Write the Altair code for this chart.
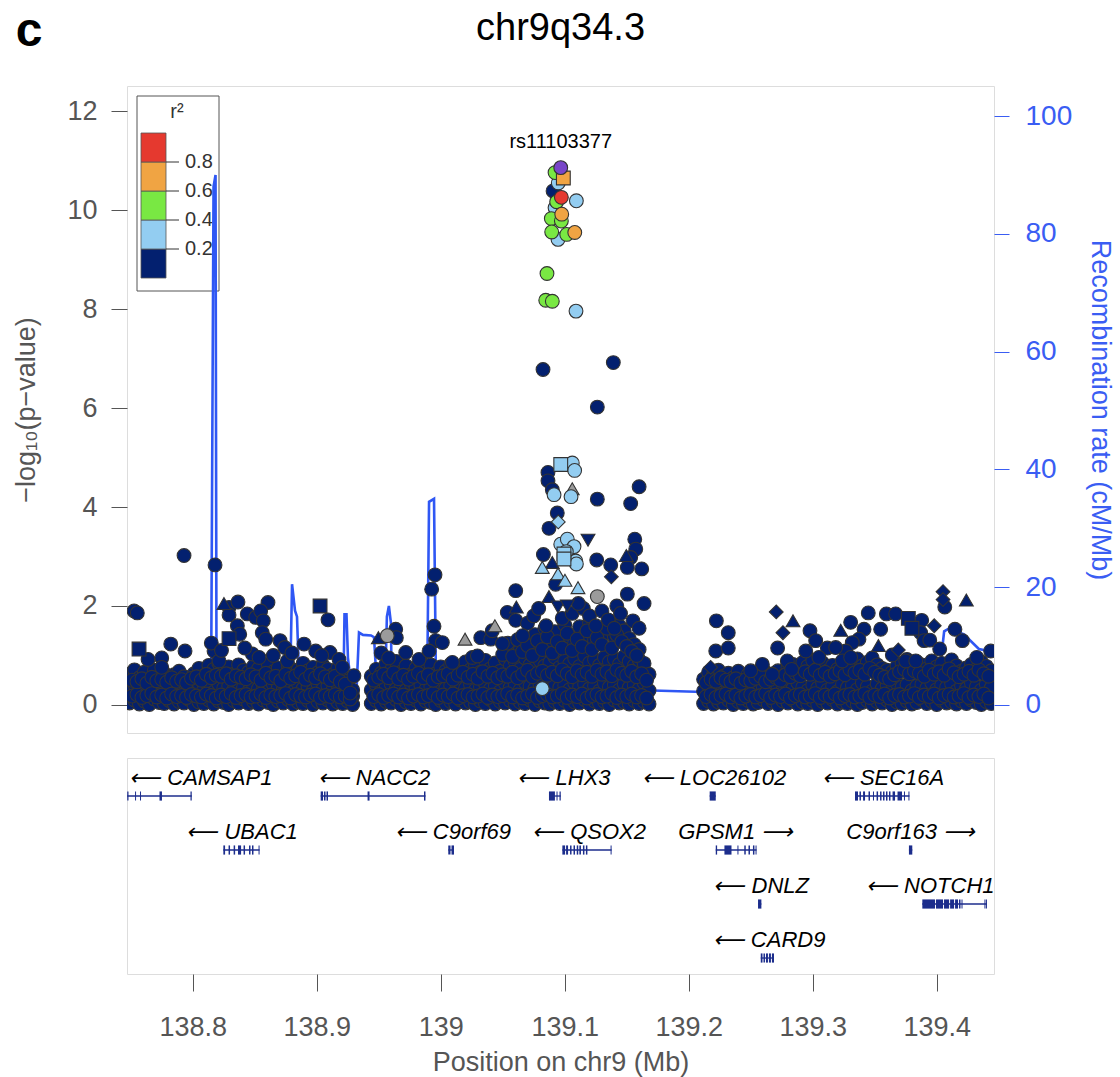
import altair as alt
import pandas as pd

FONT = "Liberation Sans"
NAVY = "#03206F"
LBLUE = "#93CDF1"
GREEN = "#79E843"
ORANGE = "#F0A443"
RED = "#E5392F"
PURPLE = "#7845C8"
GRAY = "#9B9B9B"
LINE_BLUE = "#2F57F4"
AXIS_BLUE = "#3A5DF3"
GENE = "#1C2D8C"
AXIS_GRAY = "#555555"

X_DOMAIN = [138.747, 139.4462]
Y_DOMAIN = [-0.567, 12.51]
R_DOMAIN = [-4.76, 105.1]

# ---------------- association results (position Mb, -log10 p) ----------------
base_left = [
    (138.749, 0.04, 0.31, 0.62), (138.753, 0.10, 0.42, 0.71), (138.757, 0.02, 0.27, 0.55),
    (138.761, 0.08, 0.36, 0.66), (138.765, 0.01, 0.22, 0.48), (138.769, 0.12, 0.40, 0.70),
    (138.773, 0.05, 0.33, 0.58), (138.777, 0.03, 0.29, 0.64), (138.781, 0.09, 0.38, 0.52),
    (138.785, 0.02, 0.25, 0.61), (138.789, 0.07, 0.41, 0.68), (138.793, 0.04, 0.30, 0.57),
    (138.797, 0.11, 0.35, 0.50), (138.801, 0.01, 0.28, 0.63), (138.805, 0.06, 0.44, 0.74),
    (138.809, 0.03, 0.32, 0.59), (138.813, 0.10, 0.37, 0.80), (138.817, 0.02, 0.26, 0.72),
    (138.821, 0.08, 0.43, 0.85), (138.825, 0.05, 0.34, 0.69), (138.829, 0.01, 0.39, 0.77),
    (138.833, 0.09, 0.30, 0.62), (138.837, 0.04, 0.45, 0.81), (138.841, 0.12, 0.36, 0.70),
    (138.845, 0.03, 0.27, 0.66), (138.849, 0.07, 0.41, 0.78), (138.853, 0.02, 0.33, 0.73),
    (138.857, 0.10, 0.38, 0.60), (138.861, 0.05, 0.29, 0.82), (138.865, 0.01, 0.42, 0.67),
    (138.869, 0.08, 0.35, 0.75), (138.873, 0.04, 0.31, 0.58), (138.877, 0.11, 0.40, 0.79),
    (138.881, 0.02, 0.26, 0.63), (138.885, 0.06, 0.44, 0.71), (138.889, 0.03, 0.33, 0.84),
    (138.893, 0.09, 0.37, 0.69), (138.897, 0.01, 0.28, 0.76), (138.901, 0.07, 0.43, 0.65),
    (138.905, 0.04, 0.32, 0.80), (138.909, 0.10, 0.39, 0.72), (138.913, 0.02, 0.30, 0.61),
    (138.917, 0.06, 0.41, 0.74), (138.921, 0.03, 0.27, 0.56), (138.925, 0.08, 0.35, 0.48),
    (138.929, 0.01, 0.18, 0.30),
]
base_fill_left = [
    (138.751, 0.18, 0.50), (138.755, 0.21, 0.47), (138.759, 0.15, 0.53), (138.763, 0.19, 0.44),
    (138.767, 0.23, 0.56), (138.771, 0.16, 0.49), (138.775, 0.20, 0.52), (138.779, 0.14, 0.46),
    (138.783, 0.22, 0.55), (138.787, 0.17, 0.48), (138.791, 0.19, 0.51), (138.795, 0.15, 0.45),
    (138.799, 0.21, 0.54), (138.803, 0.18, 0.57), (138.807, 0.16, 0.50), (138.811, 0.22, 0.62),
    (138.815, 0.19, 0.55), (138.819, 0.14, 0.60), (138.823, 0.20, 0.58), (138.827, 0.17, 0.63),
    (138.831, 0.23, 0.52), (138.835, 0.15, 0.59), (138.839, 0.19, 0.56), (138.843, 0.21, 0.53),
    (138.847, 0.16, 0.61), (138.851, 0.18, 0.57), (138.855, 0.22, 0.50), (138.859, 0.15, 0.64),
    (138.863, 0.20, 0.55), (138.867, 0.17, 0.58), (138.871, 0.19, 0.49), (138.875, 0.23, 0.62),
    (138.879, 0.14, 0.54), (138.883, 0.21, 0.59), (138.887, 0.18, 0.66), (138.891, 0.16, 0.52),
    (138.895, 0.20, 0.60), (138.899, 0.22, 0.55), (138.903, 0.15, 0.63), (138.907, 0.19, 0.57),
    (138.911, 0.17, 0.51), (138.915, 0.21, 0.58), (138.919, 0.16, 0.47), (138.923, 0.18, 0.42),
    (138.927, 0.12, 0.24),
]
base_mid = [
    (138.944, 0.03, 0.30, 0.58), (138.948, 0.09, 0.41, 0.72), (138.952, 0.02, 0.27, 0.64),
    (138.956, 0.07, 0.36, 0.83), (138.960, 0.04, 0.43, 0.70), (138.964, 0.11, 0.32, 0.88),
    (138.968, 0.01, 0.38, 0.66), (138.972, 0.06, 0.29, 0.79), (138.976, 0.03, 0.44, 0.61),
    (138.980, 0.10, 0.35, 0.74), (138.984, 0.02, 0.40, 0.86), (138.988, 0.08, 0.31, 0.69),
    (138.992, 0.05, 0.37, 0.81), (138.996, 0.01, 0.26, 0.63), (139.000, 0.09, 0.42, 0.77),
    (139.004, 0.03, 0.33, 0.68), (139.008, 0.07, 0.39, 0.82), (139.012, 0.02, 0.28, 0.60),
    (139.016, 0.10, 0.45, 0.75), (139.020, 0.04, 0.34, 0.87), (139.024, 0.06, 0.41, 0.71),
    (139.028, 0.01, 0.30, 0.80), (139.032, 0.08, 0.37, 0.66), (139.036, 0.03, 0.43, 0.90),
    (139.040, 0.11, 0.32, 0.73), (139.044, 0.02, 0.39, 0.85), (139.048, 0.07, 0.27, 0.68),
    (139.052, 0.04, 0.44, 0.93, 1.15), (139.056, 0.09, 0.35, 0.78, 1.05),
    (139.060, 0.02, 0.41, 0.88, 1.22), (139.064, 0.06, 0.30, 0.72, 1.10),
    (139.068, 0.03, 0.46, 0.95, 1.35), (139.072, 0.10, 0.38, 0.81, 1.18),
    (139.076, 0.01, 0.33, 0.74, 1.42), (139.080, 0.08, 0.43, 0.90, 1.27),
    (139.084, 0.04, 0.36, 0.79, 1.55), (139.088, 0.02, 0.29, 0.86, 1.30),
    (139.092, 0.07, 0.42, 0.97, 1.48), (139.096, 0.03, 0.35, 0.76, 1.20),
    (139.100, 0.09, 0.40, 0.89, 1.62), (139.104, 0.01, 0.31, 0.83, 1.37),
    (139.108, 0.06, 0.45, 0.94, 1.25), (139.112, 0.04, 0.37, 0.78, 1.58),
    (139.116, 0.11, 0.42, 0.99, 1.40), (139.120, 0.02, 0.33, 0.85, 1.66),
    (139.124, 0.08, 0.39, 0.92, 1.31), (139.128, 0.03, 0.28, 0.80, 1.52),
    (139.132, 0.07, 0.44, 0.96, 1.45), (139.136, 0.01, 0.36, 0.87, 1.70),
    (139.140, 0.10, 0.41, 0.93, 1.38), (139.144, 0.04, 0.30, 0.82, 1.60),
    (139.148, 0.06, 0.43, 0.98, 1.50), (139.152, 0.02, 0.35, 0.88, 1.34),
    (139.156, 0.09, 0.40, 0.79, 1.22), (139.160, 0.03, 0.32, 0.91, 1.12),
    (139.164, 0.07, 0.45, 0.84), (139.168, 0.02, 0.29, 0.62),
]
base_fill_mid = [
    (138.946, 0.17, 0.50), (138.950, 0.21, 0.56), (138.954, 0.15, 0.62), (138.958, 0.19, 0.55),
    (138.962, 0.22, 0.65), (138.966, 0.16, 0.53), (138.970, 0.20, 0.60), (138.974, 0.14, 0.52),
    (138.978, 0.18, 0.58), (138.982, 0.21, 0.64), (138.986, 0.16, 0.55), (138.990, 0.19, 0.61),
    (138.994, 0.23, 0.50), (138.998, 0.15, 0.57), (139.002, 0.20, 0.59), (139.006, 0.17, 0.63),
    (139.010, 0.22, 0.52), (139.014, 0.14, 0.60), (139.018, 0.19, 0.66), (139.022, 0.21, 0.56),
    (139.026, 0.16, 0.62), (139.030, 0.18, 0.54), (139.034, 0.22, 0.67), (139.038, 0.15, 0.58),
    (139.042, 0.20, 0.64), (139.046, 0.17, 0.55),
    (139.050, 0.19, 0.61, 1.02), (139.054, 0.23, 0.58, 1.25), (139.058, 0.16, 0.66, 0.98),
    (139.062, 0.20, 0.55, 1.32), (139.066, 0.14, 0.62, 1.08), (139.070, 0.18, 0.70, 1.20),
    (139.074, 0.22, 0.57, 1.00), (139.078, 0.15, 0.64, 1.30), (139.082, 0.19, 0.68, 1.12),
    (139.086, 0.21, 0.60, 1.38), (139.090, 0.16, 0.66, 1.05), (139.094, 0.18, 0.59, 1.28),
    (139.098, 0.23, 0.71, 1.15), (139.102, 0.15, 0.63, 1.45), (139.106, 0.20, 0.57, 1.10),
    (139.110, 0.17, 0.69, 1.33), (139.114, 0.22, 0.61, 1.18), (139.118, 0.14, 0.66, 1.50),
    (139.122, 0.19, 0.58, 1.12), (139.126, 0.21, 0.70, 1.36), (139.130, 0.16, 0.62, 1.22),
    (139.134, 0.18, 0.67, 1.55), (139.138, 0.23, 0.59, 1.15), (139.142, 0.15, 0.71, 1.42),
    (139.146, 0.20, 0.64, 1.28), (139.150, 0.17, 0.60, 1.18), (139.154, 0.22, 0.68, 1.08),
    (139.158, 0.16, 0.57, 1.00), (139.162, 0.19, 0.63), (139.166, 0.14, 0.50),
]
base_right = [
    (139.212, 0.03, 0.28, 0.52), (139.216, 0.08, 0.40, 0.66), (139.220, 0.02, 0.33, 0.61),
    (139.224, 0.06, 0.44, 0.70), (139.228, 0.04, 0.30, 0.58), (139.232, 0.10, 0.37, 0.64),
    (139.236, 0.01, 0.26, 0.55), (139.240, 0.07, 0.41, 0.68), (139.244, 0.03, 0.34, 0.50),
    (139.248, 0.09, 0.29, 0.62), (139.252, 0.02, 0.42, 0.57), (139.256, 0.05, 0.31, 0.66),
    (139.260, 0.11, 0.38, 0.72), (139.264, 0.03, 0.27, 0.54), (139.268, 0.07, 0.43, 0.63),
    (139.272, 0.01, 0.35, 0.69), (139.276, 0.08, 0.30, 0.58), (139.280, 0.04, 0.40, 0.75),
    (139.284, 0.10, 0.33, 0.82), (139.288, 0.02, 0.45, 0.71), (139.292, 0.06, 0.36, 0.86),
    (139.296, 0.03, 0.29, 0.78), (139.300, 0.09, 0.41, 0.90), (139.304, 0.01, 0.34, 0.74),
    (139.308, 0.07, 0.44, 0.85), (139.312, 0.04, 0.30, 0.69), (139.316, 0.11, 0.38, 0.80),
    (139.320, 0.02, 0.27, 0.72), (139.324, 0.06, 0.42, 0.88), (139.328, 0.03, 0.35, 0.77),
    (139.332, 0.08, 0.40, 0.83), (139.336, 0.01, 0.31, 0.93), (139.340, 0.05, 0.45, 0.79),
    (139.344, 0.09, 0.37, 0.86), (139.348, 0.02, 0.28, 0.95), (139.352, 0.07, 0.43, 0.81),
    (139.356, 0.04, 0.33, 0.74), (139.360, 0.10, 0.39, 0.70), (139.364, 0.01, 0.30, 0.66),
    (139.368, 0.06, 0.44, 0.78), (139.372, 0.03, 0.36, 0.84), (139.376, 0.08, 0.41, 0.92),
    (139.380, 0.02, 0.29, 0.76), (139.384, 0.05, 0.38, 0.87), (139.388, 0.11, 0.42, 0.81),
    (139.392, 0.03, 0.34, 0.73), (139.396, 0.07, 0.45, 0.89), (139.400, 0.01, 0.31, 0.77),
    (139.404, 0.09, 0.40, 0.84), (139.408, 0.04, 0.36, 0.70), (139.412, 0.06, 0.43, 0.91),
    (139.416, 0.02, 0.28, 0.79), (139.420, 0.08, 0.39, 0.68), (139.424, 0.03, 0.33, 0.75),
    (139.428, 0.10, 0.44, 0.82), (139.432, 0.05, 0.37, 0.72), (139.436, 0.01, 0.30, 0.87),
    (139.440, 0.07, 0.42, 0.78), (139.444, 0.03, 0.35, 0.69),
]
base_fill_right = [
    (139.214, 0.17, 0.45), (139.218, 0.21, 0.52), (139.222, 0.15, 0.48), (139.226, 0.19, 0.55),
    (139.230, 0.22, 0.50), (139.234, 0.16, 0.47), (139.238, 0.20, 0.53), (139.242, 0.14, 0.44),
    (139.246, 0.18, 0.51), (139.250, 0.21, 0.49), (139.254, 0.16, 0.54), (139.258, 0.19, 0.58),
    (139.262, 0.23, 0.47), (139.266, 0.15, 0.52), (139.270, 0.20, 0.56), (139.274, 0.17, 0.50),
    (139.278, 0.22, 0.61), (139.282, 0.14, 0.57), (139.286, 0.19, 0.64), (139.290, 0.21, 0.59),
    (139.294, 0.16, 0.67), (139.298, 0.18, 0.62), (139.302, 0.23, 0.70), (139.306, 0.15, 0.60),
    (139.310, 0.20, 0.66), (139.314, 0.17, 0.58), (139.318, 0.22, 0.63), (139.322, 0.14, 0.69),
    (139.326, 0.19, 0.61), (139.330, 0.21, 0.72), (139.334, 0.16, 0.65), (139.338, 0.18, 0.70),
    (139.342, 0.23, 0.62), (139.346, 0.15, 0.74), (139.350, 0.20, 0.66), (139.354, 0.17, 0.60),
    (139.358, 0.22, 0.56), (139.362, 0.14, 0.52), (139.366, 0.19, 0.61), (139.370, 0.21, 0.67),
    (139.374, 0.16, 0.72), (139.378, 0.18, 0.63), (139.382, 0.23, 0.69), (139.386, 0.15, 0.64),
    (139.390, 0.20, 0.58), (139.394, 0.17, 0.70), (139.398, 0.22, 0.62), (139.402, 0.14, 0.67),
    (139.406, 0.19, 0.60), (139.410, 0.21, 0.73), (139.414, 0.16, 0.65), (139.418, 0.18, 0.57),
    (139.422, 0.23, 0.62), (139.426, 0.15, 0.68), (139.430, 0.20, 0.60), (139.434, 0.17, 0.71),
    (139.438, 0.22, 0.63), (139.442, 0.14, 0.58),
]

navy_circle = [
    (138.7527, 1.90), (138.7553, 1.86), (138.7640, 0.92), (138.7750, 0.95), (138.7823, 1.23),
    (138.7938, 1.09), (138.7750, 0.76), (138.7930, 3.02), (138.8180, 2.83), (138.8293, 1.97),
    (138.8365, 2.08), (138.8607, 2.07), (138.8293, 1.82), (138.8360, 1.60), (138.8379, 1.43),
    (138.8440, 1.84), (138.8508, 1.77), (138.8548, 1.90), (138.8569, 1.70), (138.8172, 1.09),
    (138.8212, 0.89), (138.8561, 1.46), (138.8589, 1.33), (138.8704, 1.30), (138.8742, 1.16),
    (138.8481, 1.03), (138.8535, 0.96), (138.8763, 0.89), (138.8898, 1.23), (138.8992, 1.09),
    (138.9091, 1.72), (138.9107, 1.06), (138.9180, 0.92), (138.9300, 0.59), (138.9207, 0.76),
    (138.8150, 1.25), (138.8232, 1.10), (138.8420, 1.15), (138.8650, 1.00), (138.8800, 1.05),
    (138.9040, 1.00),
    (138.9954, 2.63), (138.9927, 2.34), (138.9946, 1.59), (138.9960, 1.30), (139.0013, 1.26),
    (138.9637, 1.53), (138.9642, 1.36), (139.0323, 1.36), (139.0403, 1.33), (139.0416, 1.50),
    (139.0497, 1.24), (138.9718, 1.06), (138.9825, 0.92), (138.9906, 1.09), (139.0094, 0.86),
    (139.0255, 0.96), (139.0296, 0.99), (138.9520, 1.05), (138.9580, 0.95),
    (139.0906, 10.39), (139.0825, 6.78), (139.1392, 6.92), (139.1263, 6.02), (139.0865, 4.70),
    (139.0865, 4.53), (139.0900, 4.35), (139.1263, 4.16), (139.1600, 4.41), (139.1532, 4.07),
    (139.0940, 3.88), (139.0873, 3.57), (139.0828, 3.04), (139.1258, 2.93), (139.1371, 2.83),
    (139.1565, 3.35), (139.1573, 3.15), (139.1532, 2.98), (139.1505, 2.78), (139.1621, 2.75),
    (139.0927, 2.44), (139.0605, 2.31), (139.1505, 2.24), (139.1640, 2.05), (139.0537, 1.87),
    (139.0605, 1.71),
    (139.0700, 1.65), (139.0750, 1.80), (139.0980, 1.75), (139.1060, 1.85), (139.1150, 1.95),
    (139.1200, 1.80), (139.1300, 1.90), (139.1350, 1.72), (139.1420, 2.00), (139.1450, 1.85),
    (139.1550, 1.70), (139.1600, 1.55), (139.1110, 2.05), (139.0790, 1.95), (139.0660, 1.40),
    (139.0850, 1.60), (139.1250, 1.60), (139.1400, 1.55),
    (139.2223, 1.70), (139.2319, 1.46), (139.2218, 1.09), (139.2319, 1.15), (139.2717, 1.15),
    (139.2795, 0.89), (139.2830, 0.72), (139.2978, 1.50), (139.3024, 1.30), (139.3118, 1.15),
    (139.3306, 1.67), (139.3414, 1.53), (139.3373, 1.33), (139.3448, 1.86), (139.3319, 1.26),
    (139.3266, 1.09), (139.3548, 1.53), (139.3594, 1.84), (139.3669, 1.84), (139.3879, 1.71),
    (139.3642, 1.01), (139.3750, 0.89), (139.3831, 0.89), (139.3871, 1.46), (139.3898, 1.30),
    (139.3944, 1.31), (139.4024, 1.13), (139.4065, 1.98), (139.4147, 1.53), (139.4207, 1.30),
    (139.4323, 0.96), (139.4435, 1.09), (139.3185, 1.16), (139.3239, 0.89), (139.3306, 0.96),
    (139.2944, 1.09), (139.3050, 0.96), (139.2594, 0.82), (139.2674, 0.62), (139.2500, 0.69),
]
navy_square = [(138.7567, 1.13), (138.8293, 1.34), (138.9027, 2.00), (139.3771, 1.75), (139.3800, 1.55)]
navy_tri_up = [(138.8252, 2.05), (138.9497, 1.36), (139.0610, 1.98), (139.0873, 2.19), (139.0900, 2.88),
               (139.2841, 1.70), (139.3226, 1.51), (139.4239, 2.12), (139.1497, 3.02), (139.3530, 1.20)]
navy_tri_down = [(139.1188, 3.33), (139.0946, 1.98), (139.1021, 2.00)]
navy_diamond = [(139.1376, 2.59), (139.2177, 0.76), (139.2706, 1.88), (139.2760, 1.46), (139.3690, 1.11),
                (139.4051, 2.29), (139.4051, 2.13), (139.3980, 1.60)]
gray_circle = [(139.1263, 2.19), (138.9569, 1.40)]
gray_tri_up = [(139.1061, 4.37), (139.0437, 1.60), (139.0196, 1.33)]
lblue_circle = [(139.0948, 10.55), (139.1094, 10.19), (139.0922, 10.05), (139.0946, 9.41), (139.1091, 7.96),
                (139.1061, 4.89), (139.1080, 4.74), (139.0914, 4.25), (139.1051, 4.21), (139.0968, 3.25),
                (139.1021, 3.35), (139.1075, 3.20), (139.1013, 3.10), (139.1089, 2.91), (139.1094, 2.85),
                (139.0819, 0.33)]
lblue_square = [(139.0968, 4.86), (139.0994, 3.05), (139.0994, 2.95)]
lblue_diamond = [(139.0948, 3.70)]
lblue_tri_up = [(139.0819, 2.78), (139.0946, 2.65), (139.1002, 2.52), (139.1107, 2.37)]
green_circle = [(139.0922, 10.76), (139.0935, 10.17), (139.0892, 9.83), (139.0973, 9.78), (139.0895, 9.56),
                (139.1016, 9.51), (139.0857, 8.72), (139.0847, 8.18), (139.0900, 8.16)]
orange_circle = [(139.0976, 9.92), (139.1081, 9.55)]
orange_square = [(139.0989, 10.65)]
red_circle = [(139.0973, 10.26)]
lead_snp = [(139.0968, 10.86)]
lead_name = "rs11103377"

# ---------------- recombination rate (position Mb, cM/Mb) ----------------
recomb_pos = [138.747, 138.765, 138.789, 138.8148, 138.8168, 138.8184, 138.8192, 138.837, 138.862,
              138.8785, 138.8801, 138.8825, 138.8841, 138.8857, 138.902, 138.918, 138.9216, 138.9224,
              138.924, 138.9252, 138.9293, 138.9317, 138.9341, 138.9373, 138.9438, 138.9462, 138.9486,
              138.955, 138.9566, 138.9582, 138.9598, 138.9606, 138.9744, 138.989, 138.9906, 138.9946,
              138.9962, 139.0147, 139.047, 139.0793, 139.1035, 139.1277, 139.1479, 139.164, 139.2123,
              139.2246, 139.2568, 139.289, 139.3212, 139.3535, 139.3736, 139.402, 139.406, 139.41,
              139.422, 139.434, 139.4462]
recomb_rate = [3.0, 2.0, 3.5, 2.0, 88.0, 90.0, 3.0, 2.5, 4.0,
               3.0, 20.5, 16.0, 15.0, 5.0, 3.0, 4.0, 4.0, 15.4,
               15.4, 8.0, 0.5, 0.5, 12.3, 11.9, 11.8, 11.5, 3.0,
               2.0, 15.0, 16.8, 14.0, 2.0, 1.5, 2.0, 34.5, 35.0,
               3.0, 1.5, 2.0, 1.2, 2.0, 1.5, 3.0, 2.5, 2.2,
               2.5, 3.0, 2.5, 3.0, 3.5, 4.0, 5.0, 12.5, 13.0,
               12.0, 9.5, 9.0]

# ---------------- genes ----------------
gene_name = ["CAMSAP1", "NACC2", "LHX3", "LOC26102", "SEC16A", "UBAC1", "C9orf69", "QSOX2", "GPSM1",
             "C9orf163", "DNLZ", "NOTCH1", "CARD9"]
gene_strand = ["-", "-", "-", "-", "-", "-", "-", "-", "+", "+", "-", "-", "-"]
gene_row = [1, 1, 1, 1, 1, 2, 2, 2, 2, 2, 3, 3, 4]
gene_start = [138.7472, 138.9032, 139.0873, 139.2169, 139.3341, 138.8247, 139.0061, 139.0981, 139.2218,
              139.3776, 139.2559, 139.3884, 139.2581]
gene_end = [138.7992, 138.9877, 139.0968, 139.2218, 139.3780, 138.8539, 139.0107, 139.1378, 139.2547,
            139.3803, 139.2586, 139.4405, 139.2688]
gene_label_pos = [138.8065, 138.9462, 139.0994, 139.2204, 139.3567, 138.8398, 139.0098, 139.1196, 139.2379,
                  139.3790, 139.2585, 139.3948, 139.2648]
gene_exons = {
    "CAMSAP1": [(138.7472, 138.7482), (138.7535, 138.7543), (138.7575, 138.7583), (138.7732, 138.7752),
                (138.7982, 138.7992)],
    "NACC2": [(138.9032, 138.9051), (138.9059, 138.9071), (138.9079, 138.9091), (138.9410, 138.9426),
              (138.9865, 138.9877)],
    "LHX3": [(139.0873, 139.0921), (139.0934, 139.0942), (139.0958, 139.0968)],
    "LOC26102": [(139.2169, 139.2218)],
    "SEC16A": [(139.3341, 139.3365), (139.3377, 139.3389), (139.3406, 139.3422), (139.3450, 139.3462),
               (139.3486, 139.3494), (139.3515, 139.3527), (139.3543, 139.3555), (139.3567, 139.3579),
               (139.3591, 139.3603), (139.3615, 139.3627), (139.3644, 139.3664), (139.3684, 139.3720),
               (139.3736, 139.3744), (139.3772, 139.3780)],
    "UBAC1": [(138.8247, 138.8261), (138.8289, 138.8301), (138.8330, 138.8342), (138.8365, 138.8390),
              (138.8410, 138.8422), (138.8454, 138.8466), (138.8478, 138.8490), (138.8531, 138.8539)],
    "C9orf69": [(139.0061, 139.0079), (139.0087, 139.0107)],
    "QSOX2": [(139.0981, 139.1003), (139.1011, 139.1027), (139.1043, 139.1055), (139.1071, 139.1083),
              (139.1097, 139.1109), (139.1118, 139.1131), (139.1147, 139.1159), (139.1171, 139.1183),
              (139.1370, 139.1378)],
    "GPSM1": [(139.2218, 139.2229), (139.2288, 139.2345), (139.2393, 139.2401), (139.2448, 139.2460),
              (139.2482, 139.2494), (139.2518, 139.2530), (139.2539, 139.2547)],
    "C9orf163": [(139.3776, 139.3803)],
    "DNLZ": [(139.2559, 139.2586)],
    "NOTCH1": [(139.3884, 139.3986), (139.3994, 139.4051), (139.4059, 139.4100), (139.4108, 139.4140),
               (139.4148, 139.4172), (139.4180, 139.4192), (139.4200, 139.4208), (139.4385, 139.4393),
               (139.4397, 139.4405)],
    "CARD9": [(139.2581, 139.2595), (139.2603, 139.2615), (139.2623, 139.2639), (139.2647, 139.2663),
              (139.2671, 139.2688)],
}

# ---------------- LD legend ----------------
r2_lo = [0.0, 0.2, 0.4, 0.6, 0.8]
r2_hi = [0.2, 0.4, 0.6, 0.8, 1.0]
r2_breaks = [0.2, 0.4, 0.6, 0.8]

# ---------------- build tables ----------------
LD_DOMAIN = ["navy", "gray", "lblue", "green", "orange", "red", "lead"]
LD_RANGE = [NAVY, GRAY, LBLUE, GREEN, ORANGE, RED, PURPLE]

rows = []
for group in (base_left, base_fill_left, base_mid, base_fill_mid, base_right, base_fill_right):
    for rec in group:
        for v in rec[1:]:
            rows.append(dict(pos=rec[0], logp=v, ld="navy", shp="circle"))


def add(lst, ld, shp):
    for p, v in lst:
        rows.append(dict(pos=p, logp=v, ld=ld, shp=shp))


add(navy_circle, "navy", "circle")
add(navy_square, "navy", "square")
add(navy_tri_up, "navy", "triangle-up")
add(navy_tri_down, "navy", "triangle-down")
add(navy_diamond, "navy", "diamond")
add(gray_circle, "gray", "circle")
add(gray_tri_up, "gray", "triangle-up")
add(lblue_circle, "lblue", "circle")
add(lblue_square, "lblue", "square")
add(lblue_diamond, "lblue", "diamond")
add(lblue_tri_up, "lblue", "triangle-up")
add(green_circle, "green", "circle")
add(orange_circle, "orange", "circle")
add(orange_square, "orange", "square")
add(red_circle, "red", "circle")
add(lead_snp, "lead", "circle")
pts_df = pd.DataFrame(rows)

lead_df = pd.DataFrame({"pos": [lead_snp[0][0]], "logp": [lead_snp[0][1]], "name": [lead_name]})
rec_df = pd.DataFrame({"pos": recomb_pos, "rate": recomb_rate})

labels = []
for n, s in zip(gene_name, gene_strand):
    labels.append(("\u27f5 " + n) if s == "-" else (n + " \u27f6"))
genes_df = pd.DataFrame({"name": gene_name, "start": gene_start, "end": gene_end, "row": gene_row,
                         "lpos": gene_label_pos, "label": labels})
ex_rows = []
for n, r in zip(gene_name, gene_row):
    for s, e in gene_exons[n]:
        ex_rows.append(dict(s=s, e=e, y1=r - 0.085, y2=r + 0.085))
ex_df = pd.DataFrame(ex_rows)

leg_df = pd.DataFrame({"lo": r2_lo, "hi": r2_hi, "cls": ["navy", "lblue", "green", "orange", "red"]})
brk_df = pd.DataFrame({"b": r2_breaks, "t": [f"{b:.1f}" for b in r2_breaks]})

W = 867
H_TOP = 647
H_BOT = 216

xscale = alt.Scale(domain=X_DOMAIN, nice=False, zero=False)
leg_y = alt.Scale(domain=[0, 1], range=[192, 47], nice=False, zero=False)

# ---------------- top panel ----------------
leg_cells = alt.Chart(leg_df).mark_rect(stroke="#555555", strokeWidth=0.8).encode(
    x=alt.value(14), x2=alt.value(39),
    y=alt.Y("lo:Q", scale=leg_y, axis=None), y2="hi:Q",
    color=alt.Color("cls:N", scale=alt.Scale(domain=LD_DOMAIN, range=LD_RANGE), legend=None),
)
leg_ticks = alt.Chart(brk_df).mark_rule(color="#333333", strokeWidth=1).encode(
    x=alt.value(39), x2=alt.value(52), y=alt.Y("b:Q", scale=leg_y, axis=None)
)
leg_text = alt.Chart(brk_df).mark_text(align="left", baseline="middle", fontSize=20, font=FONT,
                                       color="#333333").encode(
    x=alt.value(58), y=alt.Y("b:Q", scale=leg_y, axis=None), text="t:N"
)
leg_title = alt.Chart(pd.DataFrame({"t": ["r\u00b2"]})).mark_text(
    fontSize=20, font=FONT, color="#333333", align="center", baseline="middle"
).encode(x=alt.value(50), y=alt.value(26), text="t:N")
leg_box = alt.Chart(pd.DataFrame({"t": [1]})).mark_rect(fill=None, stroke="#555555", strokeWidth=1).encode(
    x=alt.value(10), x2=alt.value(92), y=alt.value(10), y2=alt.value(205)
)

recomb = alt.Chart(rec_df).mark_line(color=LINE_BLUE, strokeWidth=2.6, clip=True).encode(
    x=alt.X("pos:Q", scale=xscale, axis=None),
    y=alt.Y("rate:Q", scale=alt.Scale(domain=R_DOMAIN, nice=False, zero=False),
            axis=alt.Axis(orient="right", values=[0, 20, 40, 60, 80, 100],
                          title="Recombination rate (cM/Mb)", titleColor=AXIS_BLUE,
                          labelColor=AXIS_BLUE, tickColor=AXIS_BLUE, tickSize=15, labelPadding=16,
                          titlePadding=14, domain=False, grid=False, labelFontSize=28,
                          titleFontSize=27, labelFont=FONT, titleFont=FONT,
                          titleFontWeight="normal")),
)

points = alt.Chart(pts_df).mark_point(filled=True, size=190, stroke="#333333", strokeWidth=1.1,
                                      opacity=1, clip=True).encode(
    x=alt.X("pos:Q", scale=xscale, axis=None),
    y=alt.Y("logp:Q", scale=alt.Scale(domain=Y_DOMAIN, nice=False, zero=False),
            axis=alt.Axis(values=[0, 2, 4, 6, 8, 10, 12], title="\u2212log\u2081\u2080(p\u2212value)",
                          titleColor=AXIS_GRAY, labelColor=AXIS_GRAY, tickColor=AXIS_GRAY,
                          tickSize=16, labelPadding=14, titlePadding=26, domain=False, grid=False,
                          labelFontSize=27, titleFontSize=27, labelFont=FONT, titleFont=FONT,
                          titleFontWeight="normal")),
    color=alt.Color("ld:N", scale=alt.Scale(domain=LD_DOMAIN, range=LD_RANGE), legend=None),
    shape=alt.Shape("shp:N", scale=None),
)
lead_lbl = alt.Chart(lead_df).mark_text(dy=-26, fontSize=20, font=FONT, color="black").encode(
    x=alt.X("pos:Q", scale=xscale, axis=None),
    y=alt.Y("logp:Q", scale=alt.Scale(domain=Y_DOMAIN, nice=False, zero=False)),
    text="name:N",
)
pts_layer = alt.layer(points, lead_lbl)

panel_letter = alt.Chart(pd.DataFrame({"t": ["c"]})).mark_text(
    fontSize=48, fontWeight="bold", font=FONT, color="black", align="center", baseline="middle"
).encode(x=alt.value(-98), y=alt.value(-54), text="t:N")
title_txt = alt.Chart(pd.DataFrame({"t": ["chr9q34.3"]})).mark_text(
    fontSize=38, font=FONT, color="black", align="center", baseline="middle"
).encode(x=alt.value(W / 2), y=alt.value(-57), text="t:N")

top = alt.layer(leg_cells, leg_ticks, leg_text, leg_title, leg_box, recomb, pts_layer,
                panel_letter, title_txt).resolve_scale(y="independent").properties(width=W, height=H_TOP)

# ---------------- gene panel ----------------
gy = alt.Scale(domain=[0.296, 4.296], reverse=True, nice=False, zero=False)
xaxis = alt.Axis(values=[138.8, 138.9, 139.0, 139.1, 139.2, 139.3, 139.4],
                 labelExpr="format(datum.value, '~g')", title="Position on chr9 (Mb)",
                 titleColor=AXIS_GRAY, labelColor=AXIS_GRAY, tickColor=AXIS_GRAY, tickSize=17,
                 labelPadding=23, titlePadding=9, domain=False, grid=False, labelFontSize=27,
                 titleFontSize=27, labelFont=FONT, titleFont=FONT, titleFontWeight="normal")
introns = alt.Chart(genes_df).mark_rule(color=GENE, strokeWidth=1.3).encode(
    x=alt.X("start:Q", scale=xscale, axis=xaxis), x2="end:Q",
    y=alt.Y("row:Q", scale=gy, axis=None),
)
exons = alt.Chart(ex_df).mark_rect(color=GENE).encode(
    x=alt.X("s:Q", scale=xscale), x2="e:Q",
    y=alt.Y("y1:Q", scale=gy, axis=None), y2="y2:Q",
)
glabels = alt.Chart(genes_df).mark_text(fontSize=22, font=FONT, fontStyle="italic", color="black",
                                        dy=-18, align="center", baseline="middle").encode(
    x=alt.X("lpos:Q", scale=xscale), y=alt.Y("row:Q", scale=gy, axis=None), text="label:N"
)
bottom = alt.layer(introns, exons, glabels).properties(width=W, height=H_BOT)

chart = alt.VConcatChart(vconcat=[top, bottom], spacing=25, bounds="flush").resolve_scale(
    y="independent"
).properties(
    padding={"left": 12, "top": 7, "right": 4, "bottom": 2}
).configure_view(stroke="#666666", strokeWidth=1).configure(background="white")

chart.save("out.html", embed_options={"renderer": "svg", "actions": False})
